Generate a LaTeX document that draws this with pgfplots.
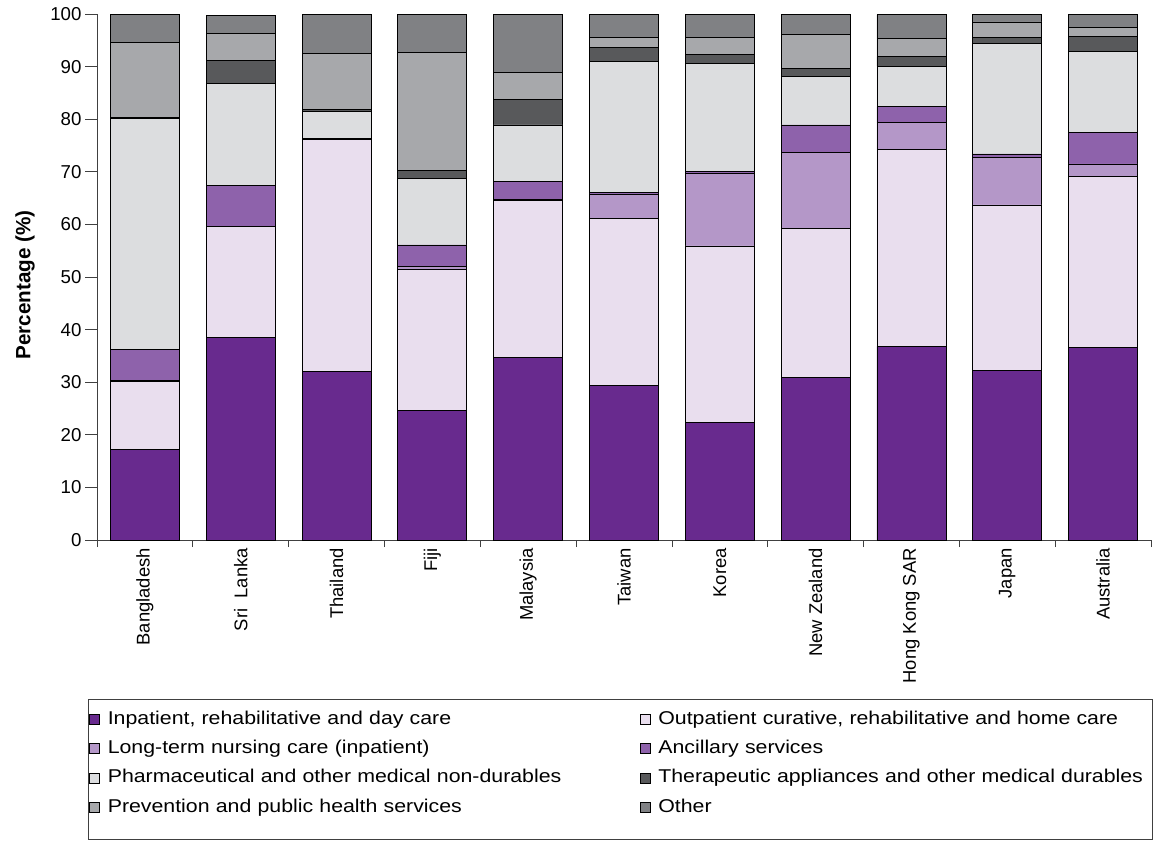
\documentclass[border=0pt]{standalone}
\usepackage{fontspec}
\setmainfont{Liberation Sans}
\newfontfamily\legfont[FakeStretch=1.15]{Liberation Sans}
\usepackage{pgfplots}
\usepackage{pgfplotstable}
\pgfplotsset{compat=1.18}
\definecolor{cInp}{HTML}{682A8E}
\definecolor{cOut}{HTML}{E9DEEE}
\definecolor{cLtc}{HTML}{B497C8}
\definecolor{cAnc}{HTML}{8E62AB}
\definecolor{cPha}{HTML}{DCDDDF}
\definecolor{cThe}{HTML}{58595B}
\definecolor{cPre}{HTML}{A7A8AB}
\definecolor{cOth}{HTML}{808184}
\pgfplotstableread{
x  inp  outp ltc  anc  pha  the  pre  oth
0  17.2 13.0 0.2  5.8  44.0 0.2  14.2 5.4
1  38.5 21.1 0.0  7.8  19.4 4.3  5.2  3.5
2  32.1 44.1 0.0  0.1  5.2  0.3  10.7 7.5
3  24.6 26.9 0.5  4.1  12.7 1.5  22.4 7.3
4  34.7 29.8 0.3  3.4  10.7 4.8  5.2  11.1
5  29.3 31.8 4.7  0.3  24.8 2.7  1.9  4.5
6  22.3 33.6 13.8 0.3  20.6 1.7  3.3  4.3
7  30.9 28.4 14.4 5.2  9.3  1.4  6.5  3.9
8  36.8 37.4 5.1  3.1  7.7  1.8  3.4  4.6
9  32.2 31.5 9.1  0.6  21.0 1.2  2.9  1.5
10 36.6 32.5 2.4  6.0  15.3 2.9  1.8  2.5
}\datatable
\begin{document}
\begin{tikzpicture}
\useasboundingbox (0pt,0pt) rectangle (864.75pt,-630pt);
\begin{scope}[x=0.75pt,y=-0.75pt]
\draw[black!75, line width=0.75pt] (88,699) rectangle (1152.5,839);
\end{scope}
\begin{axis}[
  at={(72.75pt,-405pt)}, anchor=south west,
  scale only axis, width=790.5pt, height=394.5pt,
  ybar stacked, bar width=0.72,
  xmin=-0.5, xmax=10.5, ymin=0, ymax=100,
  enlargelimits=false,
  axis x line*=bottom, axis y line*=left,
  axis line style={black!75, line width=0.6pt},
  tick align=outside,
  ytick={0,10,...,100},
  major tick length=9pt,
  minor tick length=5.25pt,
  tick style={black!75, line width=0.6pt},
  xtick={0,...,10},
  major x tick style={draw=none},
  minor xtick={-0.5,0.5,...,10.5},
  xticklabels={Bangladesh,Sri\ \ Lanka,Thailand,Fiji,Malaysia,Taiwan,Korea,New Zealand,Hong Kong SAR,Japan,Australia},
  xticklabel style={rotate=90, anchor=east, inner sep=0pt, font=\fontsize{13.8pt}{16pt}\selectfont},
  xticklabel shift=-3pt,
  yticklabel style={anchor=east, inner sep=0pt, font=\fontsize{14pt}{16pt}\selectfont},
  yticklabel shift=2.5pt,
  /pgf/number format/assume math mode=true,
  ylabel={Percentage (\%)},
  ylabel style={font=\bfseries\fontsize{15.5pt}{18pt}\selectfont, at={(axis description cs:-0.0683,0.485)}, anchor=center},
  legend columns=2,
  legend cell align=left,
  legend style={draw=none, fill=none, at={(axis description cs:-0.0076,-0.3194)}, anchor=north west,
    inner sep=0pt, row sep=5pt,
    nodes={inner sep=2pt, text height=10pt, text depth=3pt, text width=375pt, font=\legfont\fontsize{13.9pt}{16pt}\selectfont},
    /tikz/every even column/.append style={column sep=22pt},
    /tikz/every odd column/.append style={column sep=4pt}},
  legend image code/.code={\draw[#1, draw=black, line width=0.4pt] (0pt,-3.5pt) rectangle (7.5pt,4pt);},
  every axis plot/.append style={draw=black, line width=0.6pt},
]
\addplot[fill=cInp] table[x=x,y=inp]{\datatable};
\addplot[fill=cOut] table[x=x,y=outp]{\datatable};
\addplot[fill=cLtc] table[x=x,y=ltc]{\datatable};
\addplot[fill=cAnc] table[x=x,y=anc]{\datatable};
\addplot[fill=cPha] table[x=x,y=pha]{\datatable};
\addplot[fill=cThe] table[x=x,y=the]{\datatable};
\addplot[fill=cPre] table[x=x,y=pre]{\datatable};
\addplot[fill=cOth] table[x=x,y=oth]{\datatable};
\legend{{Inpatient, rehabilitative and day care},
{Outpatient curative, rehabilitative and home care},
{Long-term nursing care (inpatient)},
{Ancillary services},
{Pharmaceutical and other medical non-durables},
{Therapeutic appliances and other medical durables},
{Prevention and public health services},
{Other}}
\end{axis}
\end{tikzpicture}
\end{document}
